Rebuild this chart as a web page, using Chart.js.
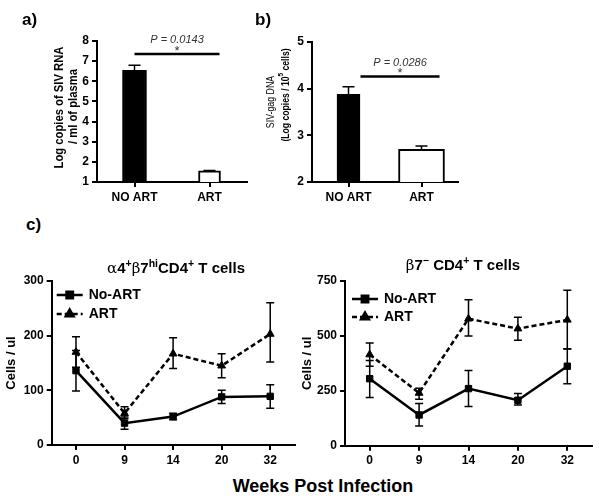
<!DOCTYPE html>
<html>
<head>
<meta charset="utf-8">
<script src="https://cdn.jsdelivr.net/npm/chart.js@4"></script>
<style>
  body { margin: 0; background: #fff; }
  #wrap { position: relative; width: 601px; height: 501px; overflow: hidden; font-family: 'Liberation Sans', Arial, sans-serif; }
  canvas { position: absolute; }
  .lbl { position: absolute; font-weight: bold; color: #000; white-space: nowrap; }
  .lbl sup { font-size: 70%; }
  .gr { font-family: 'DejaVu Serif', serif; font-weight: normal; }
</style>
</head>
<body>
<div id="wrap">
  <canvas id="chartA" width="262" height="205" style="left:0;top:0"></canvas>
  <canvas id="chartB" width="210" height="205" style="left:262px;top:0"></canvas>
  <canvas id="chartC1" width="300" height="215" style="left:0;top:260px"></canvas>
  <canvas id="chartC2" width="301" height="215" style="left:300px;top:260px"></canvas>

  <div class="lbl" style="left:22px;top:10px;font-size:17px">a)</div>
  <div class="lbl" style="left:255px;top:10px;font-size:17px">b)</div>
  <div class="lbl" style="left:26px;top:215px;font-size:17px">c)</div>
  <div class="lbl" style="left:176px;top:257px;font-size:15px;transform:translateX(-50%)"><span class="gr">α</span>4<sup>+</sup><span class="gr">β</span>7<sup>hi</sup>CD4<sup>+</sup> T cells</div>
  <div class="lbl" style="left:463px;top:254px;font-size:15px;transform:translateX(-50%)"><span class="gr">β</span>7<sup>−</sup> CD4<sup>+</sup> T cells</div>
  <div class="lbl" style="left:323px;top:476px;font-size:18px;transform:translateX(-50%)">Weeks Post Infection</div>
</div>

<script>
// ---- data ----
const groups = ['NO ART', 'ART'];

// a) plasma viral load
const rnaMean = [6.55, 1.55];
const rnaHigh = [6.8, 1.57];

// b) SIV-gag DNA
const dnaMean = [3.88, 2.70];
const dnaHigh = [4.04, 2.77];

// c) cell counts
const weeks = ['0', '9', '14', '20', '32'];

const a4NoArt = [136, 40, 52, 88, 89];
const a4NoArtLow = [99, 29, 46, 76, 67];
const a4NoArtHigh = [173, 51, 58, 100, 110];
const a4Art = [170, 58, 167, 145, 203];
const a4ArtLow = [142, 48, 140, 123, 152];
const a4ArtHigh = [198, 70, 196, 167, 260];

const b7NoArt = [305, 140, 260, 207, 362];
const b7NoArtLow = [220, 90, 178, 185, 282];
const b7NoArtHigh = [388, 192, 343, 238, 442];
const b7Art = [415, 240, 578, 533, 573];
const b7ArtLow = [362, 212, 500, 480, 440];
const b7ArtHigh = [468, 262, 665, 585, 708];

const FONT = "'Liberation Sans', Arial, 'DejaVu Sans', sans-serif";
Chart.defaults.font.family = FONT;
Chart.defaults.color = '#000';

// error bars drawn from errLow / errHigh on each dataset
const errorBars = {
    id: 'errorBars',
    afterDatasetsDraw(chart) {
        const ctx = chart.ctx;
        const y = chart.scales.y;
        chart.data.datasets.forEach((ds, i) => {
            if (!ds.errHigh) return;
            const meta = chart.getDatasetMeta(i);
            const cap = ds.capHalf || 4;
            meta.data.forEach((el, j) => {
                if (ds.data[j] == null) return;
                const x = el.x;
                const top = y.getPixelForValue(ds.errHigh[j]);
                const bot = ds.errLow ? y.getPixelForValue(ds.errLow[j]) : y.getPixelForValue(ds.data[j]);
                ctx.save();
                ctx.strokeStyle = '#000';
                ctx.lineWidth = 1.5;
                ctx.setLineDash([]);
                ctx.beginPath();
                ctx.moveTo(x, top); ctx.lineTo(x, bot);
                ctx.moveTo(x - cap, top); ctx.lineTo(x + cap, top);
                if (ds.errLow) { ctx.moveTo(x - cap, bot); ctx.lineTo(x + cap, bot); }
                ctx.stroke();
                ctx.restore();
            });
        });
    }
};

// significance bracket above the bars
const sigLine = {
    id: 'sig',
    afterDraw(chart, args, opts) {
        if (!opts || !opts.text) return;
        const ctx = chart.ctx;
        const xs = chart.scales.x;
        const x1 = xs.getPixelForValue(0) + (opts.startOff || 0);
        const x2 = xs.getPixelForValue(1) + (opts.endOff || 0);
        const yy = chart.scales.y.getPixelForValue(opts.y);
        ctx.save();
        ctx.strokeStyle = '#000';
        ctx.lineWidth = 2.5;
        ctx.beginPath();
        ctx.moveTo(x1, yy); ctx.lineTo(x2, yy);
        ctx.stroke();
        ctx.fillStyle = '#333';
        ctx.textAlign = 'center';
        ctx.font = 'italic 11px ' + FONT;
        ctx.textBaseline = 'middle';
        ctx.fillText(opts.text, (x1 + x2) / 2, yy - 14);
        ctx.font = '13px ' + FONT;
        ctx.fillText('*', (x1 + x2) / 2, yy - 3);
        ctx.restore();
    }
};

// rotated y titles with superscript support
const sideTitle = {
    id: 'sideTitle',
    afterDraw(chart, args, opts) {
        if (!opts || !opts.lines) return;
        const ctx = chart.ctx;
        const a = chart.chartArea;
        opts.lines.forEach(line => {
            ctx.save();
            ctx.translate(a.left + line.dx, (a.top + a.bottom) / 2 + line.dy);
            ctx.rotate(-Math.PI / 2);
            ctx.scale(line.squeeze || 1, 1);
            ctx.fillStyle = '#000';
            ctx.textBaseline = 'middle';
            ctx.textAlign = 'left';
            let total = 0;
            const segs = line.segs.map(s => {
                const f = s.sup ? line.supFont : line.font;
                ctx.font = f;
                const w = ctx.measureText(s.text).width;
                total += w;
                return { text: s.text, sup: s.sup, f: f, w: w };
            });
            let x = -total / 2;
            segs.forEach(s => {
                ctx.font = s.f;
                ctx.fillText(s.text, x, s.sup ? -5 : 0);
                x += s.w;
            });
            ctx.restore();
        });
    }
};

// legend inside the plot, line sample with marker
const innerLegend = {
    id: 'innerLegend',
    afterDraw(chart, args, opts) {
        const ctx = chart.ctx;
        const area = chart.chartArea;
        chart.data.datasets.forEach((ds, i) => {
            const y = area.top + opts.top + i * opts.gap;
            const x0 = area.left + opts.left;
            const x1 = x0 + 26;
            ctx.save();
            ctx.strokeStyle = '#000';
            ctx.lineWidth = 2.5;
            ctx.setLineDash(ds.borderDash || []);
            ctx.beginPath();
            ctx.moveTo(x0, y); ctx.lineTo(x1, y);
            ctx.stroke();
            ctx.setLineDash([]);
            ctx.fillStyle = '#000';
            Chart.helpers.drawPoint(ctx, {
                pointStyle: ds.pointStyle, radius: ds.pointRadius, rotation: 0, borderWidth: 1
            }, (x0 + x1) / 2, y);
            ctx.font = 'bold 14px ' + FONT;
            ctx.textBaseline = 'middle';
            ctx.textAlign = 'left';
            ctx.fillText(ds.label, x1 + 6, y);
            ctx.restore();
        });
    }
};

function axisStyle(extra) {
    return Object.assign({
        border: { color: '#000', width: 2 },
        grid: { display: true, drawOnChartArea: false, drawTicks: true, tickLength: 5, color: '#000', lineWidth: 2, offset: false },
        ticks: { color: '#000', font: { size: 12, weight: 'bold' }, padding: 3 }
    }, extra);
}

function barChart(id, means, highs, yMin, yMax, pad, yWidth, titleLines, sig, thick) {
    new Chart(document.getElementById(id), {
        type: 'bar',
        data: {
            labels: groups,
            datasets: [
                { data: [means[0], null], errHigh: [highs[0], null], capHalf: 6, backgroundColor: '#000', borderColor: '#000', borderWidth: 2, barThickness: thick[0], grouped: false },
                { data: [null, means[1]], errHigh: [null, highs[1]], capHalf: 6, backgroundColor: '#fff', borderColor: '#000', borderWidth: 2, barThickness: thick[1], grouped: false }
            ]
        },
        options: {
            responsive: false,
            animation: false,
            layout: { padding: pad },
            plugins: { legend: { display: false }, tooltip: { enabled: false }, sig: sig, sideTitle: { lines: titleLines } },
            scales: {
                x: axisStyle({ offset: true, afterFit: s => { s.height = 23; } }),
                y: axisStyle({
                    min: yMin, max: yMax,
                    ticks: { color: '#000', font: { size: 12, weight: 'bold' }, padding: 3, stepSize: 1 },
                    afterFit: s => { s.width = yWidth; }
                })
            }
        },
        plugins: [errorBars, sigLine, sideTitle]
    });
}

barChart('chartA', rnaMean, rnaHigh, 1, 8,
    { left: 46, top: 41, right: 15, bottom: 0 }, 51,
    [
        { dx: -37, dy: -4, squeeze: 0.9, font: 'bold 12.5px ' + FONT, segs: [{ text: 'Log copies of SIV RNA' }] },
        { dx: -23.5, dy: -5, squeeze: 0.9, font: 'bold 12.5px ' + FONT, segs: [{ text: '/ ml of plasma' }] }
    ],
    { y: 7.35, text: 'P = 0.0143', startOff: 0, endOff: 10 }, [24, 22]);

barChart('chartB', dnaMean, dnaHigh, 2, 5,
    { left: 0, top: 42, right: 14, bottom: 0 }, 50,
    [
        { dx: -41, dy: -10, squeeze: 0.8, font: '11px ' + FONT, segs: [{ text: 'SIV-gag DNA' }] },
        { dx: -26, dy: -17, squeeze: 0.82, font: 'bold 10.5px ' + FONT, supFont: 'bold 8px ' + FONT,
          segs: [{ text: '(Log copies / 10' }, { text: '5', sup: true }, { text: ' cells)' }] }
    ],
    { y: 4.26, text: 'P = 0.0286', startOff: 12, endOff: 18 }, [23, 46]);

function lineChart(id, noArt, noLow, noHigh, art, artLow, artHigh, yMax, step, pad, yWidth, xHeight, legendPos) {
    new Chart(document.getElementById(id), {
        type: 'line',
        data: {
            labels: weeks,
            datasets: [
                { label: 'No-ART', data: noArt, errLow: noLow, errHigh: noHigh, borderColor: '#000', backgroundColor: '#000', borderWidth: 2.5, pointStyle: 'rect', pointRadius: 4.5, pointBorderWidth: 1, tension: 0 },
                { label: 'ART', data: art, errLow: artLow, errHigh: artHigh, borderColor: '#000', backgroundColor: '#000', borderWidth: 2.5, borderDash: [5, 3], pointStyle: 'triangle', pointRadius: 4.5, pointBorderWidth: 1, tension: 0 }
            ]
        },
        options: {
            responsive: false,
            animation: false,
            layout: { padding: pad },
            plugins: { legend: { display: false }, tooltip: { enabled: false }, innerLegend: legendPos },
            scales: {
                x: axisStyle({ offset: true, afterFit: s => { s.height = xHeight; } }),
                y: axisStyle({
                    min: 0, max: yMax,
                    ticks: { color: '#000', font: { size: 12, weight: 'bold' }, padding: 3, stepSize: step },
                    title: { display: true, text: 'Cells / ul', color: '#000', padding: { top: 0, bottom: 0 }, font: { size: 13, weight: 'bold' } },
                    afterFit: s => { s.width = yWidth; }
                })
            }
        },
        plugins: [errorBars, innerLegend]
    });
}

lineChart('chartC1', a4NoArt, a4NoArtLow, a4NoArtHigh, a4Art, a4ArtLow, a4ArtHigh, 300, 100,
    { left: 4, top: 21, right: 2, bottom: 0 }, 47.7, 30, { left: 5, top: 14, gap: 19 });

lineChart('chartC2', b7NoArt, b7NoArtLow, b7NoArtHigh, b7Art, b7ArtLow, b7ArtHigh, 750, 250,
    { left: 0, top: 21, right: 9, bottom: 0 }, 45, 29.3, { left: 7, top: 18, gap: 18 });
</script>
</body>
</html>
